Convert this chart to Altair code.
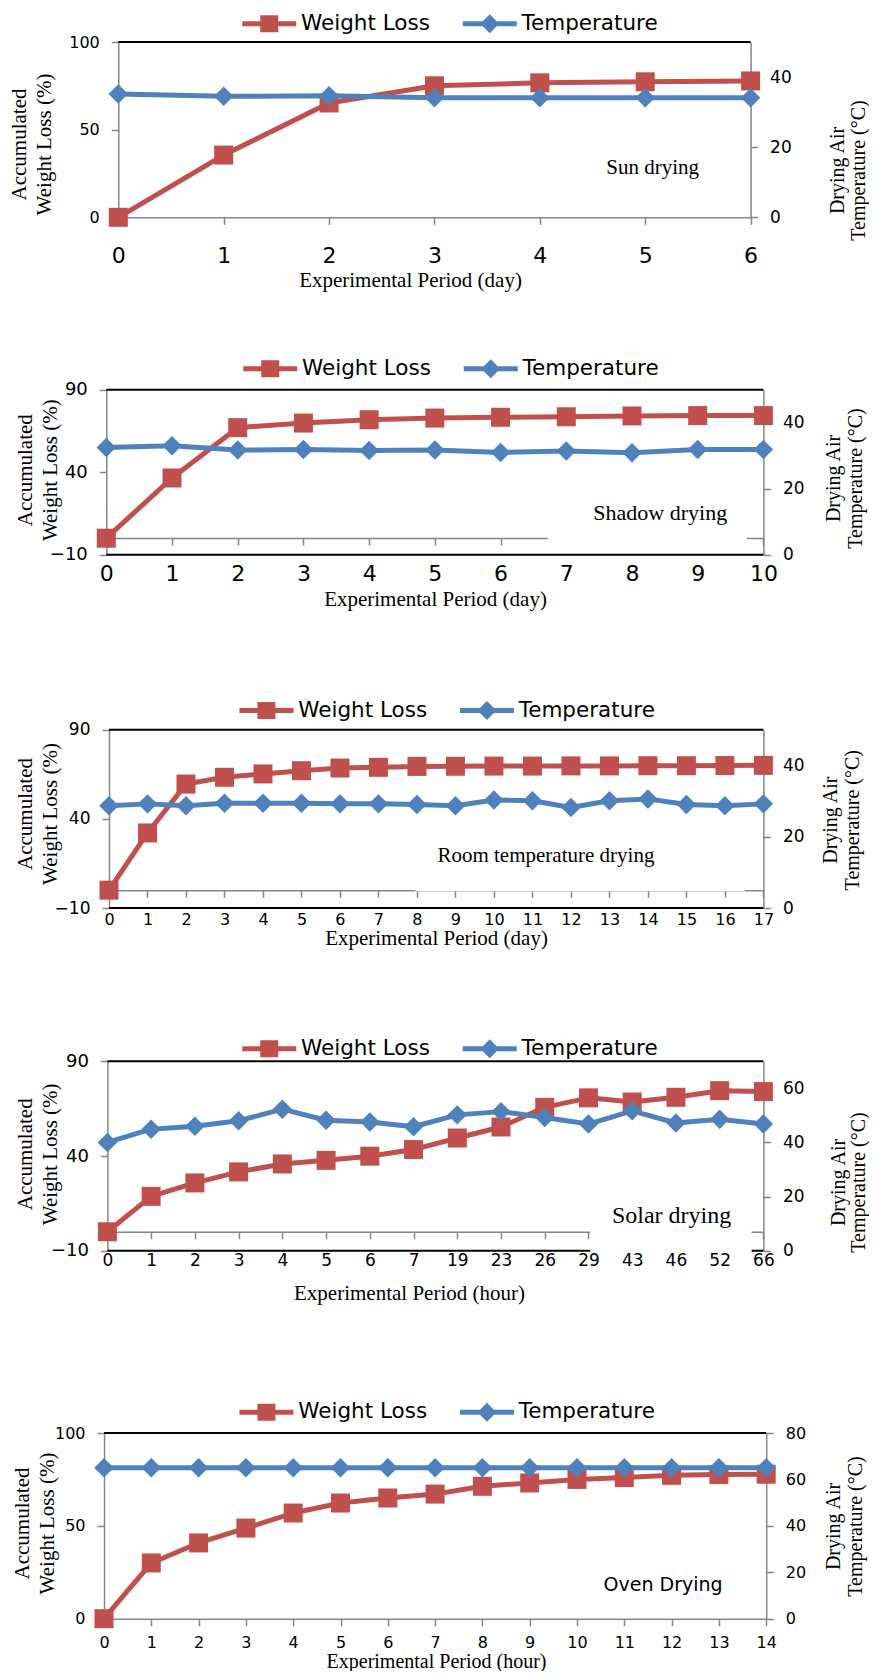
import altair as alt
import pandas as pd

# ---------------- data ----------------
SERIES = ["Weight Loss", "Temperature"]
RED = "#C0504D"
BLUE = "#4F81BD"

SUN_PERIOD = ["0", "1", "2", "3", "4", "5", "6"]
SUN_WEIGHT_LOSS = [0.0, 35.5, 65.2, 75.0, 76.7, 77.3, 77.8]
SUN_TEMPERATURE = [35.2, 34.5, 34.7, 34.1, 34.1, 34.1, 34.1]

SHADOW_PERIOD = ["0", "1", "2", "3", "4", "5", "6", "7", "8", "9", "10"]
SHADOW_WEIGHT_LOSS = [0.0, 36.5, 67.0, 69.8, 71.8, 72.8, 73.3, 73.6, 74.1, 74.3, 74.3]
SHADOW_TEMPERATURE = [32.5, 33.0, 31.7, 31.9, 31.6, 31.7, 31.0, 31.4, 30.9, 31.9, 31.9]

ROOM_PERIOD = ["0", "1", "2", "3", "4", "5", "6", "7", "8", "9", "10", "11",
               "12", "13", "14", "15", "16", "17"]
ROOM_WEIGHT_LOSS = [0.0, 32.1, 59.5, 63.3, 65.2, 67.0, 68.5, 68.9, 69.4, 69.5,
                    69.6, 69.6, 69.7, 69.7, 69.8, 69.8, 69.9, 70.0]
ROOM_TEMPERATURE = [28.7, 29.2, 28.7, 29.4, 29.4, 29.4, 29.2, 29.2, 29.0, 28.7,
                    30.3, 30.1, 28.2, 30.1, 30.6, 29.0, 28.7, 29.2]

SOLAR_PERIOD = ["0", "1", "2", "3", "4", "5", "6", "7", "19", "23", "26", "29",
                "43", "46", "52", "66"]
SOLAR_WEIGHT_LOSS = [0.0, 18.7, 25.8, 31.6, 35.8, 37.7, 39.9, 43.4, 49.5, 55.3,
                     65.7, 70.7, 68.5, 71.0, 74.5, 74.0]
SOLAR_TEMPERATURE = [40.0, 44.9, 46.0, 48.0, 52.3, 48.2, 47.6, 45.8, 50.2, 51.4,
                     49.2, 46.8, 51.7, 47.2, 48.6, 46.8]

OVEN_PERIOD = ["0", "1", "2", "3", "4", "5", "6", "7", "8", "9", "10", "11",
               "12", "13", "14"]
OVEN_WEIGHT_LOSS = [0.0, 30.0, 40.8, 48.8, 56.9, 62.3, 65.0, 67.1, 71.3, 73.1,
                    75.0, 76.0, 77.2, 77.6, 77.8]
OVEN_TEMPERATURE = [65.0, 65.0, 65.0, 65.0, 65.0, 65.0, 65.0, 65.0, 65.0, 65.0,
                    65.0, 65.0, 65.0, 65.0, 65.0]

# ---------------- styling / layout ----------------
SERIF = "Liberation Serif"
SANS = "DejaVu Sans"
MX = 8           # page -> view offset, horizontal
MY = 10          # page -> view offset, vertical (figure nudged up 2px so it fits the page)
VIEW_W = 861
VIEW_H = 1660
SQ_PATH = "M-2.7,-0.25H2.7V0.25H-2.7Z M-0.9,-0.85H0.9V0.85H-0.9Z"
DIA_PATH = "M-2.7,-0.25H2.7V0.25H-2.7Z M0,-0.95L0.95,0L0,0.95L-0.95,0Z"

PANELS = [
    dict(period=SUN_PERIOD, wl=SUN_WEIGHT_LOSS, temp=SUN_TEMPERATURE, unit="day",
         ldomain=[0, 100], lticks=[0, 50, 100], rdomain=[0, 50], rticks=[0, 20, 40],
         note="Sun drying", note_font=SERIF, note_size=21, note_at=(5.07, 28.1),
         box=None, floor=False,
         plot=(118.3, 750.6, 44.0, 219.3), axis_y=219.3,
         xfs=22, lfs=16, rfs=17, xpad=21, xtitle=(410, 282.5), xtfs=21,
         ltitle=(19.6, 146), rtitle=(837, 172), rlh=21, legend=(241.5, 23.3)),
    dict(period=SHADOW_PERIOD, wl=SHADOW_WEIGHT_LOSS, temp=SHADOW_TEMPERATURE, unit="day",
         ldomain=[-10, 90], lticks=[-10, 40, 90], rdomain=[0, 50], rticks=[0, 20, 40],
         note="Shadow drying", note_font=SERIF, note_size=22, note_at=(8.43, 15.3),
         box=(6.72, 9.75, -4.7, 30), floor=True,
         plot=(106.3, 763.4, 391.7, 556.7), axis_y=540.0,
         xfs=22, lfs=18, rfs=17, xpad=18.5, xtitle=(435, 601), xtfs=21,
         ltitle=(25.2, 471.7), rtitle=(833, 480), rlh=22, legend=(242.5, 368.3)),
    dict(period=ROOM_PERIOD, wl=ROOM_WEIGHT_LOSS, temp=ROOM_TEMPERATURE, unit="day",
         ldomain=[-10, 90], lticks=[-10, 40, 90], rdomain=[0, 50], rticks=[0, 20, 40],
         note="Room temperature drying", note_font=SERIF, note_size=21, note_at=(11.35, 19.0),
         box=(7.95, 16.52, -0.58, 32), floor=True,
         plot=(109.0, 763.4, 731.7, 910.0), axis_y=892.2,
         xfs=16, lfs=17, rfs=17, xpad=14.5, xtitle=(436, 940.5), xtfs=21,
         ltitle=(25.2, 815.5), rtitle=(830.5, 821.7), rlh=22, legend=(238.7, 710)),
    dict(period=SOLAR_PERIOD, wl=SOLAR_WEIGHT_LOSS, temp=SOLAR_TEMPERATURE, unit="hour",
         ldomain=[-10, 90], lticks=[-10, 40, 90], rdomain=[0, 70], rticks=[0, 20, 40, 60],
         note="Solar drying", note_font=SERIF, note_size=24, note_at=(12.9, 8.2),
         box=(11.04, 14.73, -10.7, 20.5), floor=True,
         plot=(107.4, 763.4, 1063.3, 1252.7), axis_y=1233.8,
         xfs=17, lfs=18, rfs=17, xpad=14, xtitle=(409, 1295), xtfs=21,
         ltitle=(25.0, 1155.8), rtitle=(838, 1184), rlh=20, legend=(241.5, 1048.3)),
    dict(period=OVEN_PERIOD, wl=OVEN_WEIGHT_LOSS, temp=OVEN_TEMPERATURE, unit="hour",
         ldomain=[0, 100], lticks=[0, 50, 100], rdomain=[0, 80], rticks=[0, 20, 40, 60, 80],
         note="Oven Drying", note_font=SANS, note_size=19, note_at=(11.82, 18.0),
         box=None, floor=False,
         plot=(104.0, 766.2, 1435.0, 1620.7), axis_y=1620.7,
         xfs=16, lfs=16, rfs=16, xpad=8.5, xtitle=(436, 1663), xtfs=20,
         ltitle=(22.4, 1525), rtitle=(833.3, 1528), rlh=22, legend=(238.7, 1411.7)),
]


def build(p):
    labels = p["period"]
    n = len(labels) - 1
    L, R, T, B = p["plot"]
    df = pd.DataFrame({"i": list(range(n + 1)), "period": labels,
                       "wl": p["wl"], "temp": p["temp"]})
    one = pd.DataFrame({"k": [0]})

    label_js = "[" + ",".join("'%s'" % s for s in labels) + "]"
    xscale = alt.Scale(domain=[0, n], range=[L - MX, R - MX], nice=False, zero=False)
    lscale = alt.Scale(domain=p["ldomain"], range=[B - MY, T - MY], nice=False, zero=False)
    rscale = alt.Scale(domain=p["rdomain"], range=[B - MY, T - MY], nice=False, zero=False)

    xaxis = alt.Axis(
        orient="bottom", values=list(range(n + 1)), labelExpr=label_js + "[datum.value]",
        offset=(p["axis_y"] - MY) - VIEW_H, labelFontSize=p["xfs"], labelPadding=p["xpad"],
        labelOverlap=False, labelFlush=False, labelBound=False,
        title="Experimental Period (%s)" % p["unit"], titleFontSize=p["xtfs"],
        titleX=p["xtitle"][0] - MX, titleY=p["xtitle"][1] - p["axis_y"],
        titleAlign="center", titleBaseline="middle")
    laxis = alt.Axis(
        orient="left", values=p["lticks"], offset=-(L - MX), labelFontSize=p["lfs"],
        labelPadding=12, labelOverlap=False, labelFlush=False,
        title=["Accumulated", "Weight Loss (%)"], titleAngle=270, titleLineHeight=25,
        titleX=p["ltitle"][0] - L, titleY=p["ltitle"][1] - MY,
        titleAlign="center", titleBaseline="middle")
    raxis = alt.Axis(
        orient="right", values=p["rticks"], offset=(R - MX) - VIEW_W, labelFontSize=p["rfs"],
        labelPadding=12, labelOverlap=False, labelFlush=False,
        title=["Drying Air", "Temperature (°C)"], titleAngle=270, titleLineHeight=p["rlh"],
        titleFontSize=20,
        titleX=p["rtitle"][0] - R, titleY=p["rtitle"][1] - MY,
        titleAlign="center", titleBaseline="middle")

    deco = alt.Chart(one)
    left_layers = [
        deco.mark_rule(color="black", strokeWidth=2).encode(
            x=alt.XDatum(0), x2=alt.X2Datum(n), y=alt.YDatum(p["ldomain"][1]))
    ]
    if p["floor"]:
        left_layers.append(
            deco.mark_rule(color="black", strokeWidth=2).encode(
                x=alt.XDatum(0), x2=alt.X2Datum(n), y=alt.YDatum(p["ldomain"][0])))
    if p["box"] is not None:
        bx0, bx1, by0, by1 = p["box"]
        left_layers.append(
            deco.mark_rect(color="white").encode(
                x=alt.XDatum(bx0), x2=alt.X2Datum(bx1),
                y=alt.YDatum(by0), y2=alt.Y2Datum(by1)))
    left_layers.append(
        deco.mark_text(text=p["note"], font=p["note_font"], fontSize=p["note_size"],
                       color="black", align="center", baseline="middle").encode(
            x=alt.XDatum(p["note_at"][0]), y=alt.YDatum(p["note_at"][1])))

    base = alt.Chart(df)
    left_layers.append(
        base.mark_line(color=RED, strokeWidth=5, strokeJoin="round").encode(
            x=alt.X("i:Q", scale=xscale, axis=xaxis),
            y=alt.Y("wl:Q", scale=lscale, axis=laxis)))
    left_layers.append(
        base.mark_point(filled=True, shape="square", size=361, color=RED, opacity=1).encode(
            x=alt.X("i:Q"), y=alt.Y("wl:Q")))

    leg = alt.Legend(orient="none", legendX=p["legend"][0] - MX + 17,
                     legendY=p["legend"][1] - MY - 8.6, direction="horizontal", title=None,
                     symbolSize=400, symbolStrokeWidth=0, labelFont=SANS, labelFontSize=21.5,
                     labelColor="black", labelOffset=21, columnPadding=31.5, padding=0)
    left_layers.append(
        alt.Chart(pd.DataFrame({"series": SERIES})).transform_filter("false")
        .mark_point(filled=True, opacity=1).encode(
            color=alt.Color("series:N", scale=alt.Scale(domain=SERIES, range=[RED, BLUE]), legend=leg),
            shape=alt.Shape("series:N", scale=alt.Scale(domain=SERIES, range=[SQ_PATH, DIA_PATH]), legend=leg)))

    right = alt.layer(
        base.mark_line(color=BLUE, strokeWidth=5, strokeJoin="round").encode(
            x=alt.X("i:Q"), y=alt.Y("temp:Q", scale=rscale, axis=raxis)),
        base.mark_point(filled=True, shape="diamond", size=380, color=BLUE, opacity=1).encode(
            x=alt.X("i:Q"), y=alt.Y("temp:Q")),
    )
    left = alt.layer(*left_layers)
    return alt.layer(left, right).resolve_scale(y="independent")


chart = (
    alt.layer(*[build(p) for p in PANELS])
    .resolve_scale(x="independent", y="independent", color="independent", shape="independent")
    .properties(width=VIEW_W, height=VIEW_H, padding=0, background="white")
    .configure_view(stroke="transparent")
    .configure_axis(domainColor="#868686", tickColor="#868686", domainWidth=1.5, tickWidth=1.5,
                    tickSize=7, grid=False, labelFont=SANS, labelColor="black",
                    titleFont=SERIF, titleFontSize=21, titleFontWeight="normal", titleColor="black")
    .configure_legend(labelFont=SANS, labelColor="black")
)

chart.save("out.html", embed_options={"renderer": "svg", "actions": False})
